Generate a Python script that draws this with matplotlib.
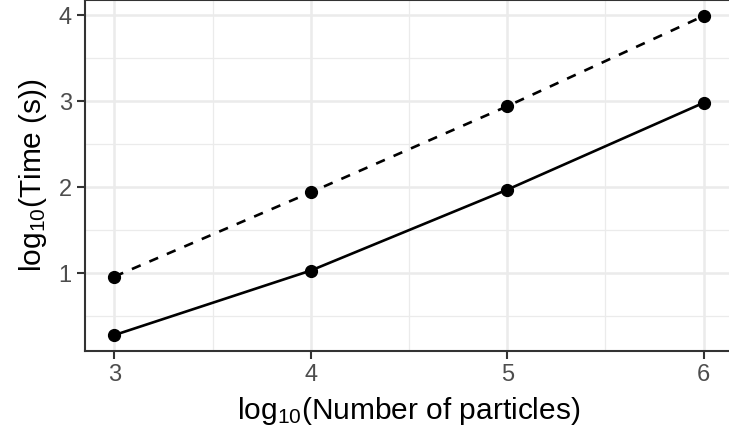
import matplotlib
matplotlib.use("Agg")
import matplotlib.pyplot as plt
from matplotlib.ticker import MultipleLocator

plt.rcParams['font.family'] = ['Liberation Sans', 'DejaVu Sans']
plt.rcParams['mathtext.fontset'] = 'custom'
plt.rcParams['mathtext.rm'] = 'Liberation Sans'
plt.rcParams['mathtext.it'] = 'Liberation Sans'

# log10 of particle counts and timings
n_particles = [3, 4, 5, 6]
time_solid = [0.28, 1.03, 1.97, 2.98]
time_dashed = [0.96, 1.94, 2.94, 3.99]

W, H = 729, 434
fig = plt.figure(figsize=(W / 100, H / 100), dpi=100)
# panel runs slightly past the top and right edges
ax = fig.add_axes([85 / W, (H - 351) / H, (733 - 85) / W, (351 - 0) / H])

ax.plot(n_particles, time_dashed, color='black', lw=1.9, ls=(0, (3.6, 3.6)),
        marker='o', ms=8.5, zorder=3)
ax.plot(n_particles, time_solid, color='black', lw=1.9,
        marker='o', ms=8.5, zorder=3)

xr = max(n_particles) - min(n_particles)
ax.set_xlim(min(n_particles) - 0.05 * xr, max(n_particles) + 0.05 * xr)
ylo = min(time_solid + time_dashed)
yhi = max(time_solid + time_dashed)
yr = yhi - ylo
ax.set_ylim(ylo - 0.05 * yr, yhi + 0.05 * yr)

ax.xaxis.set_major_locator(MultipleLocator(1))
ax.xaxis.set_minor_locator(MultipleLocator(0.5))
ax.yaxis.set_major_locator(MultipleLocator(1))
ax.yaxis.set_minor_locator(MultipleLocator(0.5))

ax.grid(which='major', color='#EBEBEB', lw=1.8)
ax.grid(which='minor', color='#EBEBEB', lw=0.9)
ax.set_axisbelow(True)

for s in ax.spines.values():
    s.set_color('#333333')
    s.set_linewidth(1.5)

ax.tick_params(which='major', length=5.5, width=1.5, color='#333333',
               labelcolor='#4D4D4D', labelsize=17, pad=4)
ax.tick_params(which='minor', length=0)

ax.set_xlabel(r'log$_{10}$(Number of particles)', fontsize=21.5, color='black', labelpad=6)
ax.set_ylabel(r'log$_{10}$(Time (s))', fontsize=21.5, color='black', labelpad=7)

fig.savefig('out.png', dpi=100)
